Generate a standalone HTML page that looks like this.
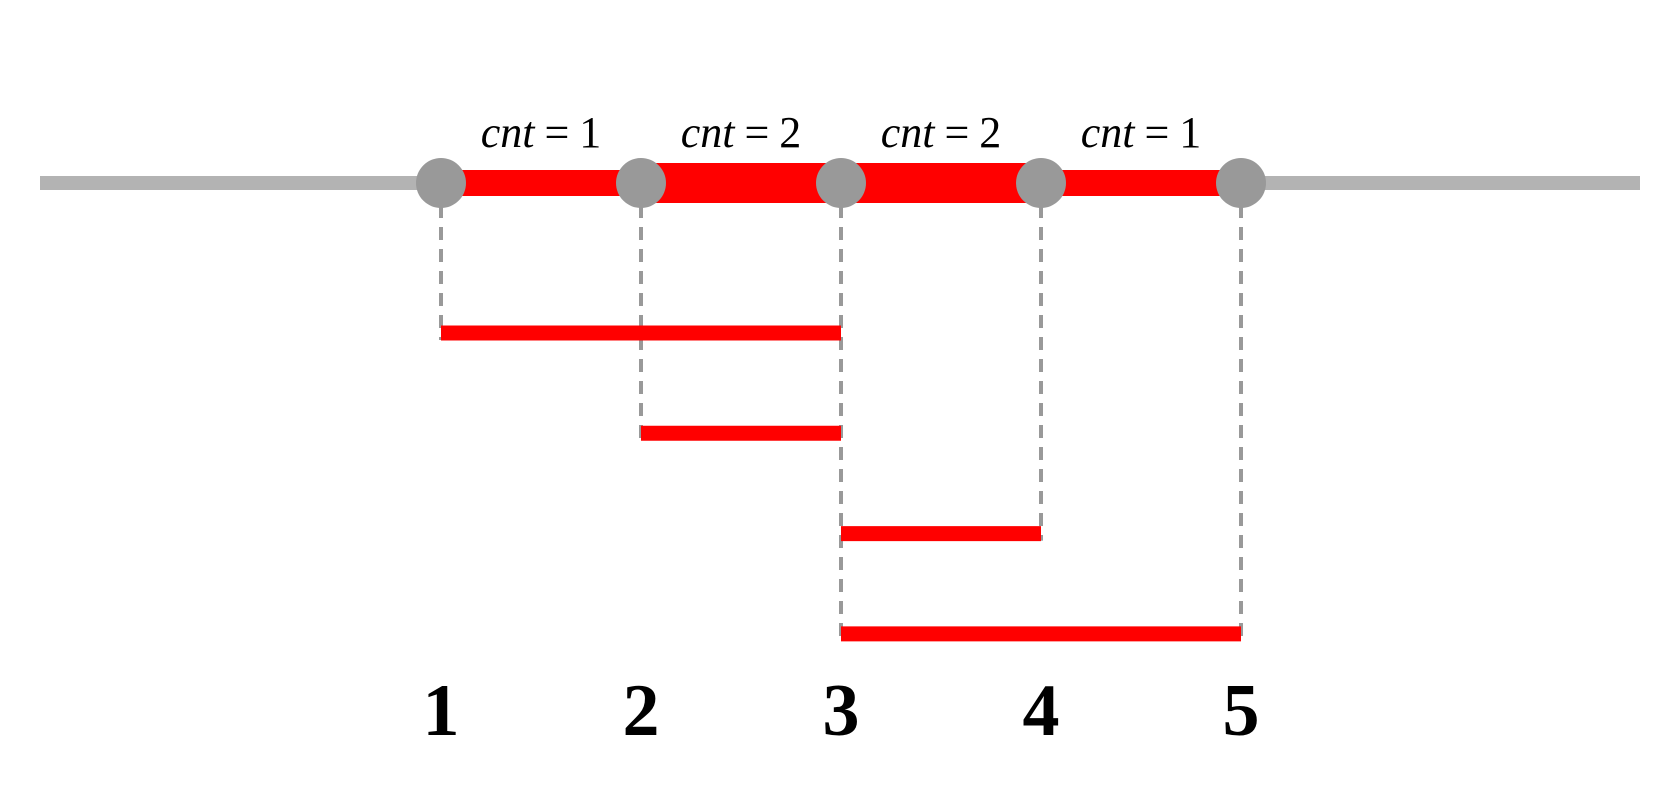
<!DOCTYPE html>
<html><head><meta charset="utf-8"><style>
html,body{margin:0;padding:0;background:#fff;}
svg{display:block;}
</style></head><body>
<svg id="chart" width="1662" height="790" viewBox="0 0 1662 790" xmlns="http://www.w3.org/2000/svg">
<g id="base"></g><g id="dashes"></g><g id="ints"></g><g id="cover"></g><g id="dots"></g><g id="labels"></g>
</svg>
<script>
const points = [1, 2, 3, 4, 5];
const intervals = [[1, 3], [2, 3], [3, 4], [3, 5]];
const counts = [1, 2, 2, 1];
const NS = 'http://www.w3.org/2000/svg';
const xScale = v => 441 + (v - 1) * 200;
const rowY = i => 333 + i * 100.3;
const lineY = 183;
function mk(tag, attrs, parent) {
  const e = document.createElementNS(NS, tag);
  for (const k in attrs) e.setAttribute(k, attrs[k]);
  document.getElementById(parent).appendChild(e);
  return e;
}
let e = mk('line', {x1: 40, x2: 1640, y1: lineY, y2: lineY, stroke: '#b3b3b3', 'stroke-width': 14}, 'base');


for (let i = 0; i < counts.length; i++) {
  const w = counts[i] === 1 ? 26 : 40;
  e = mk('line', {x1: xScale(points[i]), x2: xScale(points[i + 1]), y1: lineY, y2: lineY, stroke: '#ff0000', 'stroke-width': w}, 'cover');
  
  
  const t = mk('text', {x: (xScale(points[i]) + xScale(points[i + 1])) / 2, y: 147, 'text-anchor': 'middle', 'font-family': '"Liberation Serif", serif', 'font-size': 44}, 'labels');
  t.innerHTML = '<tspan font-style="italic">cnt</tspan><tspan dx="10">=</tspan><tspan dx="10">' + counts[i] + '</tspan>';
  
  
}
intervals.forEach((iv, i) => {
  const y = rowY(i);
  e = mk('line', {x1: xScale(iv[0]), x2: xScale(iv[1]), y1: y, y2: y, stroke: '#ff0000', 'stroke-width': 15}, 'ints');
  
  
});
points.forEach(p => {
  let maxY = null;
  intervals.forEach((iv, i) => { if (iv[0] === p || iv[1] === p) maxY = rowY(i); });
  if (maxY !== null) {
    e = mk('line', {x1: xScale(p), x2: xScale(p), y1: lineY, y2: maxY + 7, stroke: '#999999', 'stroke-width': 4, 'stroke-dasharray': '13 9'}, 'dashes');
    
    
  }
  e = mk('circle', {cx: xScale(p), cy: lineY, r: 25, fill: '#999999'}, 'dots');
  
  
  const t = mk('text', {x: xScale(p), y: 735, 'text-anchor': 'middle', 'font-family': '"Liberation Serif", serif', 'font-weight': 'bold', 'font-size': 74}, 'labels');
  t.textContent = p;
  
  
});
</script>
</body></html>
